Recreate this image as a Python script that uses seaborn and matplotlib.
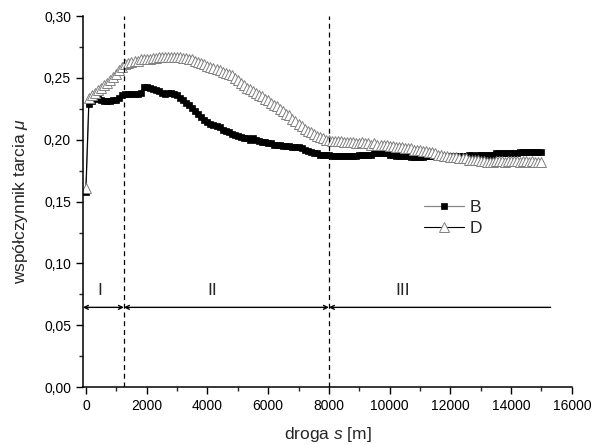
import numpy as np
import pandas as pd
from matplotlib import pyplot as plt
from matplotlib.lines import Line2D
from matplotlib.legend_handler import HandlerTuple
import seaborn as sns

# droga s [m], co 100 m
s = list(range(0, 15001, 100))

mu_B = [
    0.158, 0.229, 0.231, 0.233, 0.234, 0.232, 0.231, 0.231, 0.231, 0.232,
    0.232, 0.234, 0.236, 0.237, 0.237, 0.237, 0.237, 0.237, 0.238, 0.243,
    0.243, 0.242, 0.241, 0.240, 0.239, 0.238, 0.237, 0.238, 0.238, 0.237,
    0.236, 0.234, 0.232, 0.230, 0.228, 0.226, 0.223, 0.221, 0.218, 0.216,
    0.214, 0.213, 0.212, 0.211, 0.210, 0.208, 0.207, 0.206, 0.205, 0.204,
    0.203, 0.202, 0.201, 0.201, 0.200, 0.201, 0.200, 0.199, 0.198, 0.198,
    0.197, 0.197, 0.196, 0.196, 0.196, 0.195, 0.195, 0.195, 0.194, 0.194,
    0.194, 0.193, 0.192, 0.191, 0.190, 0.189, 0.189, 0.188, 0.188, 0.188,
    0.188, 0.187, 0.187, 0.187, 0.187, 0.187, 0.187, 0.187, 0.187, 0.187,
    0.188, 0.188, 0.188, 0.188, 0.188, 0.189, 0.189, 0.189, 0.189, 0.189,
    0.188, 0.188, 0.187, 0.187, 0.187, 0.187, 0.187, 0.186, 0.186, 0.186,
    0.186, 0.186, 0.187, 0.187, 0.187, 0.187, 0.187, 0.187, 0.187, 0.187,
    0.187, 0.187, 0.187, 0.187, 0.187, 0.187, 0.188, 0.188, 0.187, 0.188,
    0.188, 0.188, 0.188, 0.188, 0.188, 0.189, 0.189, 0.189, 0.189, 0.189,
    0.189, 0.189, 0.189, 0.190, 0.190, 0.190, 0.190, 0.190, 0.190, 0.190,
    0.190,
]

mu_D = [
    0.161, 0.234, 0.236, 0.238, 0.240, 0.242, 0.244, 0.246, 0.248, 0.251,
    0.253, 0.256, 0.259, 0.261, 0.262, 0.263, 0.264, 0.264, 0.265, 0.265,
    0.265, 0.265, 0.266, 0.266, 0.267, 0.267, 0.267, 0.267, 0.267, 0.267,
    0.267, 0.267, 0.266, 0.266, 0.265, 0.265, 0.264, 0.263, 0.262, 0.261,
    0.260, 0.259, 0.258, 0.257, 0.256, 0.255, 0.254, 0.253, 0.252, 0.250,
    0.248, 0.246, 0.244, 0.242, 0.241, 0.239, 0.238, 0.236, 0.235, 0.233,
    0.232, 0.230, 0.228, 0.227, 0.225, 0.223, 0.221, 0.220, 0.217, 0.215,
    0.213, 0.211, 0.209, 0.207, 0.206, 0.205, 0.203, 0.202, 0.201, 0.200,
    0.200, 0.199, 0.199, 0.199, 0.199, 0.198, 0.198, 0.198, 0.198, 0.197,
    0.197, 0.198, 0.197, 0.197, 0.196, 0.197, 0.196, 0.196, 0.196, 0.196,
    0.195, 0.195, 0.194, 0.194, 0.194, 0.193, 0.193, 0.193, 0.192, 0.192,
    0.192, 0.191, 0.191, 0.190, 0.190, 0.189, 0.188, 0.188, 0.187, 0.187,
    0.186, 0.186, 0.186, 0.185, 0.185, 0.185, 0.184, 0.184, 0.184, 0.184,
    0.183, 0.183, 0.182, 0.182, 0.182, 0.183, 0.183, 0.183, 0.182, 0.183,
    0.183, 0.183, 0.183, 0.182, 0.183, 0.183, 0.182, 0.183, 0.182, 0.182,
    0.182,
]

# granice etapow i opisy
borders = [1250, 8000]
stages = ["I", "II", "III"]
stage_x = [460, 4160, 10430]
stage_spans = [(-100, 1250), (1250, 8000), (8000, 15300)]

sns.set_style("ticks")
plt.rcParams["font.family"] = ["Liberation Sans", "DejaVu Sans"]
plt.rcParams["mathtext.fontset"] = "custom"
plt.rcParams["mathtext.it"] = "Liberation Sans:italic"
plt.rcParams["mathtext.rm"] = "Liberation Sans"

df = pd.DataFrame({"s": s, "B": mu_B, "D": mu_D})

fig = plt.figure(figsize=(5.92, 4.45), dpi=100)
ax = fig.add_axes([0.140, 0.130, 0.826, 0.834])

line_B = dict(color="#888888", lw=0.9)
mark_B = dict(marker="s", markersize=4.7, markerfacecolor="black",
              markeredgecolor="black", markeredgewidth=0.5)
line_D = dict(color="black", lw=0.8)
mark_D = dict(marker="^", markersize=6.5, markerfacecolor="white",
              markeredgecolor="#808080", markeredgewidth=0.7)

sns.lineplot(data=df, x="s", y="B", ax=ax, legend=False, **line_B, **mark_B)
sns.lineplot(data=df, x="s", y="D", ax=ax, legend=False, **line_D, **mark_D)

for b in borders:
    ax.axvline(b, color="black", lw=0.9, ls=(0, (4, 3)))

y_arrow = 0.0645
for i, (x0, x1) in enumerate(stage_spans):
    ax.annotate("", xy=(x0, y_arrow), xytext=(x1, y_arrow),
                arrowprops=dict(arrowstyle="<->" if i < 2 else "->", lw=1.0,
                                color="black", shrinkA=0, shrinkB=0,
                                mutation_scale=7))
    ax.text(stage_x[i], 0.0785, stages[i], ha="center", va="center",
            fontsize=12.5)

ax.set_xlim(-100, 16000)
ax.set_ylim(0, 0.30)
ax.set_xticks(range(0, 16001, 2000))
ax.set_xticks(range(1000, 16000, 2000), minor=True)
ax.set_yticks(np.arange(0, 0.301, 0.05))
ax.set_yticks(np.arange(0.025, 0.3, 0.05), minor=True)
ax.set_yticklabels([f"{v:.2f}".replace(".", ",") for v in np.arange(0, 0.301, 0.05)])

ax.tick_params(axis="both", which="major", direction="out", length=5,
               width=1, labelsize=10, colors="black")
ax.tick_params(axis="both", which="minor", direction="out", length=3, width=1)
for side in ["left", "bottom"]:
    ax.spines[side].set_linewidth(1.1)
    ax.spines[side].set_color("black")
sns.despine(ax=ax)

ax.set_xlabel(r"droga $s$ [m]", fontsize=12.5, labelpad=9)
ax.set_ylabel(r"współczynnik tarcia $\mu$", fontsize=12.5, labelpad=10)

handles = [
    (Line2D([], [], **line_B), Line2D([], [], ls="none", **mark_B)),
    (Line2D([], [], **line_D), Line2D([], [], ls="none", **mark_D)),
]
ax.legend(handles, ["B", "D"], loc="upper left", bbox_to_anchor=(0.68, 0.528),
          frameon=False, fontsize=12.5, handlelength=2.3, handletextpad=0.35,
          labelspacing=0.35, borderpad=0, numpoints=1,
          handler_map={tuple: HandlerTuple(ndivide=1, pad=0)})

fig.savefig("out.png", dpi=100)
